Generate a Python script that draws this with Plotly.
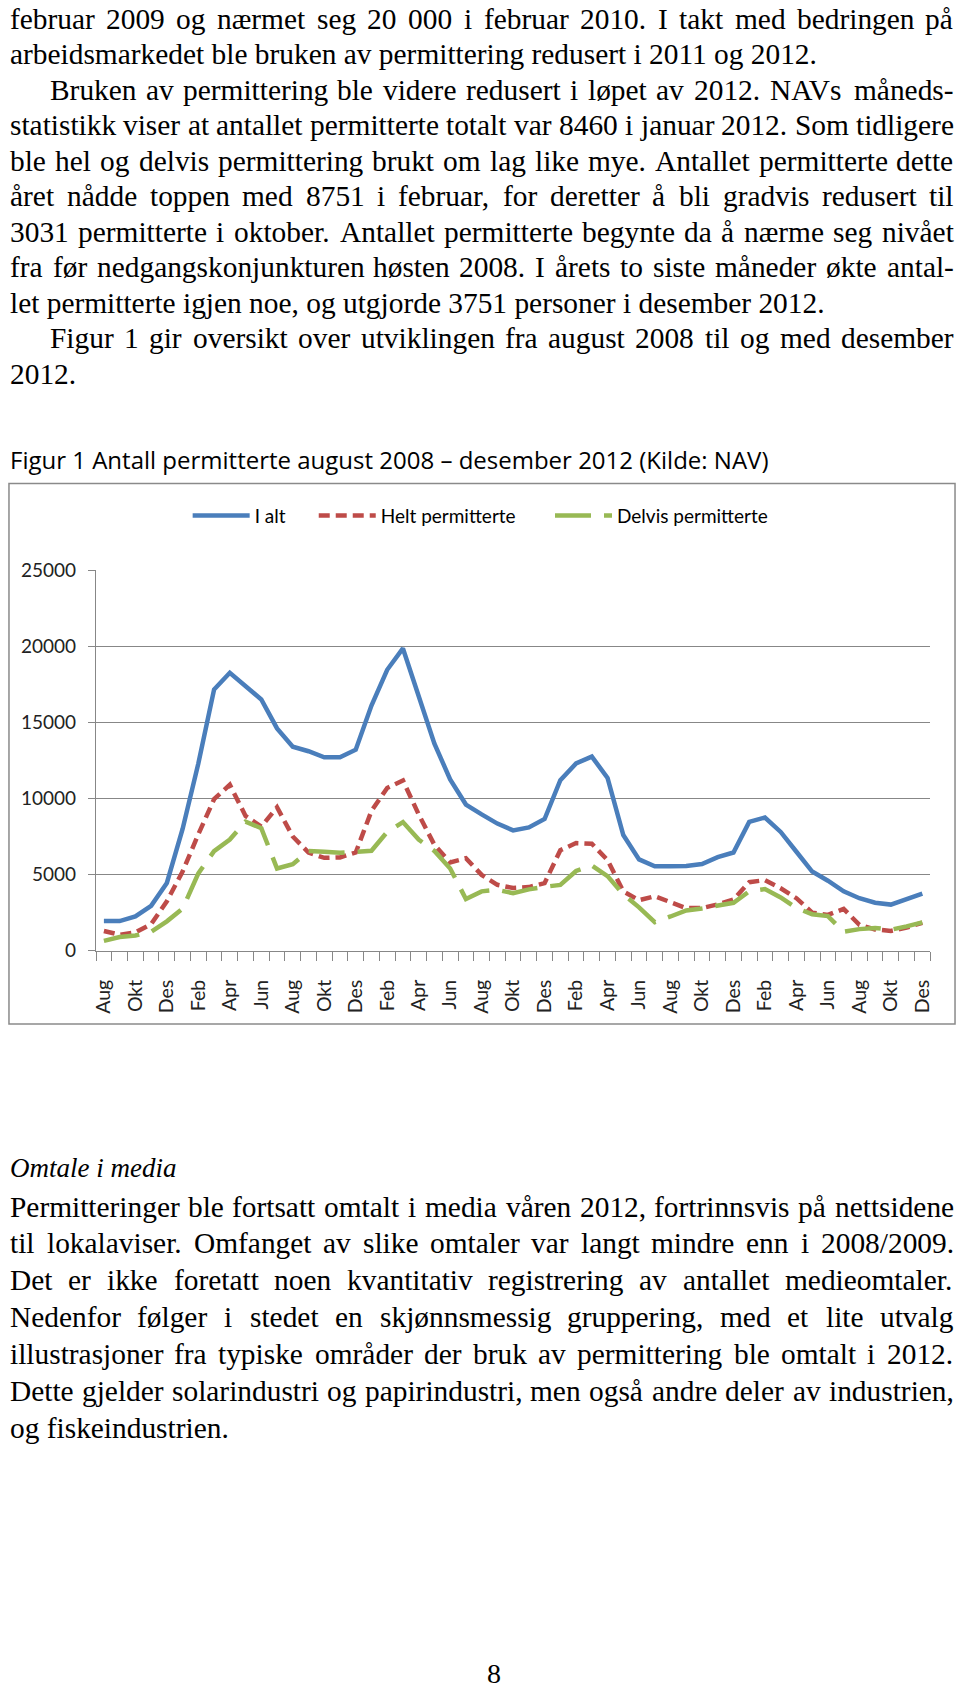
import plotly.graph_objects as go

W, H = 960, 1691

# ---------------- data ----------------
months = ["Aug", "Sep", "Okt", "Nov", "Des",
          "Jan", "Feb", "Mar", "Apr", "Mai", "Jun", "Jul", "Aug", "Sep", "Okt", "Nov", "Des",
          "Jan", "Feb", "Mar", "Apr", "Mai", "Jun", "Jul", "Aug", "Sep", "Okt", "Nov", "Des",
          "Jan", "Feb", "Mar", "Apr", "Mai", "Jun", "Jul", "Aug", "Sep", "Okt", "Nov", "Des",
          "Jan", "Feb", "Mar", "Apr", "Mai", "Jun", "Jul", "Aug", "Sep", "Okt", "Nov", "Des"]

i_alt = [1950, 1950, 2250, 2950, 4450, 8000, 12300, 17150, 18250, 17400, 16500, 14600, 13400,
         13100, 12700, 12700, 13200, 16100, 18450, 19850, 16700, 13600, 11250, 9600, 8950,
         8350, 7900, 8100, 8650, 11200, 12300, 12750, 11350, 7600, 6000, 5550, 5550, 5560,
         5700, 6150, 6450, 8460, 8751, 7800, 6500, 5200, 4600, 3900, 3450, 3150, 3031, 3400, 3751]

helt = [1300, 1050, 1200, 1750, 3250, 5200, 7650, 9950, 10900, 8850, 8150, 9420, 7500,
        6450, 6100, 6130, 6450, 9180, 10690, 11180, 8950, 6950, 5800, 6080, 4980,
        4330, 4120, 4180, 4440, 6600, 7070, 7030, 5950, 3900, 3320, 3580, 3190, 2800,
        2800, 3040, 3360, 4500, 4640, 4100, 3450, 2500, 2350, 2750, 1700, 1400, 1300, 1520, 1840]

delvis = [650, 900, 1000, 1250, 1930, 2760, 5080, 6540, 7300, 8480, 8050, 5400, 5680,
          6550, 6500, 6430, 6500, 6570, 7800, 8450, 7300, 6550, 5400, 3400, 3900,
          4000, 3780, 4030, 4200, 4320, 5240, 5600, 4900, 3700, 2850, 1880, 2250, 2650,
          2780, 2930, 3150, 3900, 4050, 3500, 2800, 2400, 2280, 1250, 1420, 1500, 1380, 1600, 1860]

series_names = ["I alt", "Helt permitterte", "Delvis permitterte"]
y_ticks = [0, 5000, 10000, 15000, 20000, 25000]

caption = "Figur 1 Antall permitterte august 2008 \u2013 desember 2012 (Kilde: NAV)"

top_lines = [
    ("februar 2009 og nærmet seg 20 000 i februar 2010. I takt med bedringen på", 0, True),
    ("arbeidsmarkedet ble bruken av permittering redusert i 2011 og 2012.", 0, False),
    ("Bruken av permittering ble videre redusert i løpet av 2012. NAVs måneds-", 1, True),
    ("statistikk viser at antallet permitterte totalt var 8460 i januar 2012. Som tidligere", 0, True),
    ("ble hel og delvis permittering brukt om lag like mye. Antallet permitterte dette", 0, True),
    ("året nådde toppen med 8751 i februar, for deretter å bli gradvis redusert til", 0, True),
    ("3031 permitterte i oktober. Antallet permitterte begynte da å nærme seg nivået", 0, True),
    ("fra før nedgangskonjunkturen høsten 2008. I årets to siste måneder økte antal-", 0, True),
    ("let permitterte igjen noe, og utgjorde 3751 personer i desember 2012.", 0, False),
    ("Figur 1 gir oversikt over utviklingen fra august 2008 til og med desember", 1, True),
    ("2012.", 0, False),
]

heading = "Omtale i media"
bottom_lines = [
    ("Permitteringer ble fortsatt omtalt i media våren 2012, fortrinnsvis på nettsidene", 0, True),
    ("til lokalaviser. Omfanget av slike omtaler var langt mindre enn i 2008/2009.", 0, True),
    ("Det er ikke foretatt noen kvantitativ registrering av antallet medieomtaler.", 0, True),
    ("Nedenfor følger i stedet en skjønnsmessig gruppering, med et lite utvalg", 0, True),
    ("illustrasjoner fra typiske områder der bruk av permittering ble omtalt i 2012.", 0, True),
    ("Dette gjelder solarindustri og papirindustri, men også andre deler av industrien,", 0, True),
    ("og fiskeindustrien.", 0, False),
]
page_no = "8"

# ---------------- helpers ----------------
def px(x):
    return x / W


def py(y):
    return 1 - y / H


TIMES = {' ': 250, '!': 333, ',': 250, '-': 333, '.': 250, '/': 278, ':': 278, ';': 278,
         '(': 333, ')': 333, '?': 444,
         'A': 722, 'B': 667, 'C': 667, 'D': 722, 'E': 611, 'F': 556, 'G': 722, 'H': 722,
         'I': 333, 'J': 389, 'K': 722, 'L': 611, 'M': 889, 'N': 722, 'O': 722, 'P': 556,
         'Q': 722, 'R': 667, 'S': 556, 'T': 611, 'U': 722, 'V': 722, 'W': 944, 'X': 722,
         'Y': 722, 'Z': 611,
         'a': 444, 'b': 500, 'c': 444, 'd': 500, 'e': 444, 'f': 333, 'g': 500, 'h': 500,
         'i': 278, 'j': 278, 'k': 500, 'l': 278, 'm': 778, 'n': 500, 'o': 500, 'p': 500,
         'q': 500, 'r': 333, 's': 389, 't': 278, 'u': 500, 'v': 500, 'w': 722, 'x': 500,
         'y': 500, 'z': 444, 'å': 444, 'ø': 500, 'æ': 667, 'Å': 722, 'Ø': 722, 'Æ': 889}
for d in "0123456789":
    TIMES[d] = 500

FS = 29.4
SERIF = "Liberation Serif"
XL, XR, INDENT = 4, 954, 44


def tw(s):
    return sum(TIMES.get(c, 500) for c in s) * FS / 1000.0


annotations = []


def add_text(text, x, y, size=FS, family=SERIF, italic=False, anchor="left",
             yanchor="middle", yshift=0):
    annotations.append(dict(
        text=("<i>%s</i>" % text) if italic else text,
        x=px(x), y=py(y), xref="paper", yref="paper",
        xanchor=anchor, yanchor=yanchor, showarrow=False, yshift=yshift,
        font=dict(family=family, size=size, color="#000000"),
        borderpad=0))


def add_line(text, y, indent, justify):
    x0 = INDENT if indent else XL
    if not justify:
        add_text(text, x0, y)
        return
    words = text.split(" ")
    widths = [tw(w) for w in words]
    gap = (XR - x0 - sum(widths)) / (len(words) - 1)
    gap = max(gap, 3)
    x = x0
    for w, wd in zip(words, widths):
        add_text(w, x, y)
        x += wd + gap


TOP_Y0, TOP_DY = 7, 36.0
for k, (t, ind, j) in enumerate(top_lines):
    add_line(t, TOP_Y0 + TOP_DY * k, ind, j)

add_text(heading, XL, 1171.5, size=27, italic=True)
BOT_Y0, BOT_DY = 1211, 37.35
for k, (t, ind, j) in enumerate(bottom_lines):
    add_line(t, BOT_Y0 + BOT_DY * k, ind, j)

add_text(page_no, 493, H, size=28, anchor="center", yanchor="bottom", yshift=-10)
add_text(caption, XL, 453.5, size=24, family="Open Sans")

# ---------------- chart ----------------
X0, X1 = 91.7, 932.0
Y0, Y1 = 951.7, 565.7
GRAY = "#878787"
CFONT = "Lato"

xs = list(range(len(months)))
fig = go.Figure()
fig.add_trace(go.Scatter(x=xs, y=i_alt, name=series_names[0], mode="lines", legend="legend",
                         line=dict(color="#4A7EBB", width=4.5)))
fig.add_trace(go.Scatter(x=xs, y=helt, name=series_names[1], mode="lines", legend="legend2",
                         line=dict(color="#BE4B48", width=4.5, dash="11px,6px")))
fig.add_trace(go.Scatter(x=xs, y=delvis, name=series_names[2], mode="lines", legend="legend3",
                         line=dict(color="#98B954", width=4.5, dash="36px,13px")))


def leg(xpos):
    return dict(orientation="h", x=px(xpos), y=py(510.5), xanchor="left", yanchor="middle",
                font=dict(family=CFONT, size=19, color="#000000"), itemwidth=57,
                bgcolor="rgba(0,0,0,0)")


fig.update_layout(
    width=W, height=H,
    margin=dict(l=0, r=0, t=0, b=0),
    paper_bgcolor="white", plot_bgcolor="white",
    showlegend=True,
    legend=leg(184), legend2=leg(311), legend3=leg(549),
    xaxis=dict(domain=[px(X0), px(X1)], range=[-0.5, len(months) - 0.5],
               tickmode="array", tickvals=xs[::2], ticktext=months[::2],
               tickangle=-90, ticks="", showgrid=False, zeroline=False,
               showline=True, linecolor=GRAY, linewidth=1.4,
               tickfont=dict(family=CFONT, size=19.5, color="#222222"),
               ticklabelstandoff=20,
               minor=dict(tickmode="array", tickvals=[i - 0.5 for i in range(len(months) + 1)],
                          ticks="outside", ticklen=9, tickcolor=GRAY, tickwidth=1.4,
                          showgrid=False)),
    yaxis=dict(domain=[py(Y0), py(Y1)], range=[0, 25000], tickmode="array", tickvals=y_ticks,
               ticktext=[str(v) for v in y_ticks],
               ticks="outside", ticklen=7, tickcolor=GRAY, tickwidth=1.4,
               showgrid=True, gridcolor=GRAY, gridwidth=1.4, zeroline=False,
               showline=True, linecolor=GRAY, linewidth=1.4,
               tickfont=dict(family=CFONT, size=19, color="#222222"),
               ticklabelstandoff=8),
    annotations=annotations,
    shapes=[dict(type="rect", xref="paper", yref="paper",
                 x0=px(4), x1=px(957), y0=py(1026), y1=py(478),
                 line=dict(color="#8a8a8a", width=1.5), fillcolor="rgba(0,0,0,0)",
                 layer="below")],
)

fig.write_html("out.html",
               config={"displayModeBar": False},
               post_script="document.body.style.margin='0';document.body.style.overflow='hidden';")
